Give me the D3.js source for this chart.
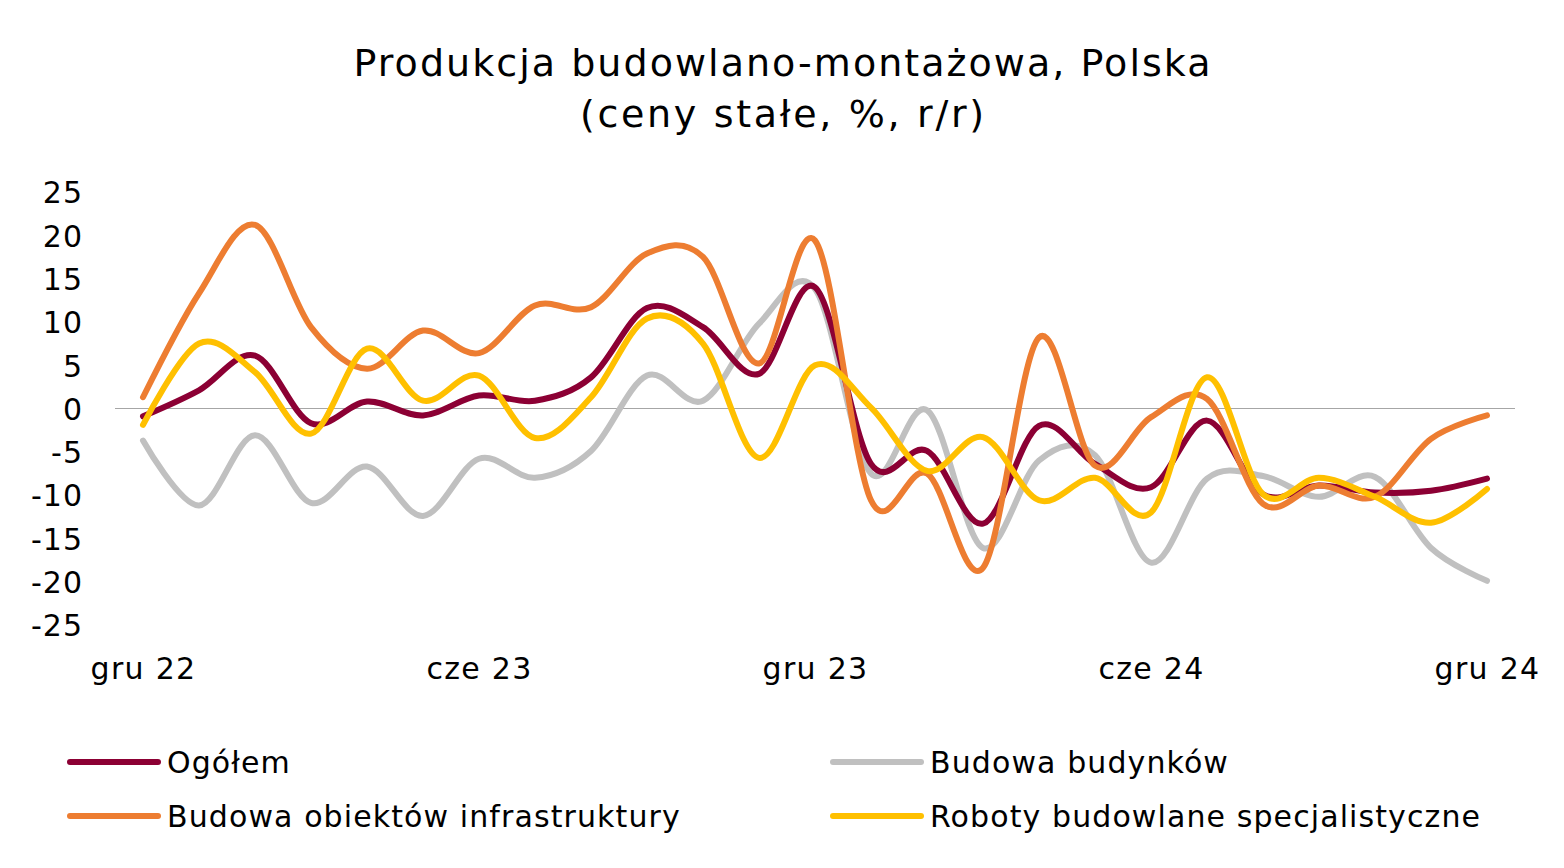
<!DOCTYPE html>
<html><head><meta charset="utf-8">
<script src="https://cdn.jsdelivr.net/npm/d3@7"></script>
<style>body{margin:0;background:#fff;} text{font-family:"DejaVu Sans",Verdana,sans-serif;fill:#000;}</style>
</head><body>
<svg id="c" width="1564" height="868"></svg>
<script>
const months = ["gru 22","sty 23","lut 23","mar 23","kwi 23","maj 23","cze 23","lip 23","sie 23","wrz 23","paź 23","lis 23","gru 23","sty 24","lut 24","mar 24","kwi 24","maj 24","cze 24","lip 24","sie 24","wrz 24","paź 24","lis 24","gru 24"];
const tickMonths = ["gru 22","cze 23","gru 23","cze 24","gru 24"];
const yTicks = [25,20,15,10,5,0,-5,-10,-15,-20,-25];
const ogolem = [-0.9,2.1,6.1,-1.7,0.8,-0.8,1.5,0.9,3.6,11.6,9.4,4.0,14.0,-6.4,-4.9,-13.3,-2.0,-6.4,-9.1,-1.4,-9.9,-8.9,-9.7,-9.5,-8.1];
const budynki = [-3.7,-11.2,-3.1,-10.9,-6.7,-12.4,-5.8,-8.0,-4.9,3.8,0.9,9.8,13.8,-7.5,-0.2,-16.1,-6.0,-5.4,-17.8,-8.1,-7.8,-10.2,-7.9,-16.1,-19.9];
const infrastruktura = [1.3,13.3,21.2,9.4,4.6,9.0,6.4,11.9,11.7,17.9,17.5,5.2,19.4,-10.6,-7.5,-18.4,8.2,-6.6,-1.0,1.1,-11.0,-8.9,-10.2,-3.5,-0.8];
const specjalistyczne = [-1.9,7.5,4.2,-2.9,6.9,0.9,3.8,-3.4,1.3,10.4,7.5,-5.7,5.0,0.1,-7.2,-3.3,-10.6,-8.0,-12.0,3.6,-9.9,-8.0,-10.2,-13.2,-9.3];
const seriesNames = ["Ogółem","Budowa budynków","Budowa obiektów infrastruktury","Roboty budowlane specjalistyczne"];
const colors = ["#8C0034","#C0C0C0","#ED7D31","#FFC000"];

const svg = d3.select("#c");
const x = d3.scalePoint().domain(months).range([115,1515]).padding(0.5);
const y = d3.scaleLinear().domain([-25,25]).range([625,192]);

// title
svg.append("text").attr("x",782).attr("y",76).attr("text-anchor","middle").attr("font-size",38).attr("textLength",857).attr("lengthAdjust","spacing").text("Produkcja budowlano-montażowa, Polska");
svg.append("text").attr("x",782).attr("y",127).attr("text-anchor","middle").attr("font-size",38).attr("textLength",404).attr("lengthAdjust","spacing").text("(ceny stałe, %, r/r)");

// y axis
const yAxis = d3.axisLeft(y).tickValues(yTicks).tickSize(0).tickPadding(0).tickFormat(d=>d);
const ya = svg.append("g").attr("transform","translate(83,0)").call(yAxis);
ya.select(".domain").remove();
ya.selectAll("text").attr("font-size",30).attr("dy","0.36em").style("letter-spacing","1px").style("font-family","'DejaVu Sans',Verdana,sans-serif").attr("fill","#000");

// x axis labels
const xAxis = d3.axisBottom(x).tickValues(tickMonths).tickSize(0).tickPadding(0);
const xa = svg.append("g").attr("transform","translate(0,679)").call(xAxis);
xa.select(".domain").remove();
xa.selectAll("text").attr("font-size",30).attr("dy","0").style("letter-spacing","1.3px").style("font-family","'DejaVu Sans',Verdana,sans-serif").attr("fill","#000");

// zero line
svg.append("line").attr("x1",115).attr("x2",1515).attr("y1",y(0)).attr("y2",y(0)).attr("stroke","#A6A6A6").attr("stroke-width",1.2);

const data = [ogolem,budynki,infrastruktura,specjalistyczne];
const line = d3.line().x((d,i)=>x(months[i])).y(d=>y(d)).curve(d3.curveCardinal.tension(0));
const order = [1,0,2,3];
order.forEach(k=>{
  svg.append("path").attr("d",line(data[k])).attr("fill","none").attr("stroke",colors[k]).attr("stroke-width",6).attr("stroke-linecap","round").attr("stroke-linejoin","round");
});

// legend
const legPos = [[70,762],[833,762],[70,816],[833,816]];
seriesNames.forEach((n,k)=>{
  const [lx,ly] = legPos[k];
  svg.append("line").attr("x1",lx).attr("x2",lx+88).attr("y1",ly).attr("y2",ly).attr("stroke",colors[k]).attr("stroke-width",6).attr("stroke-linecap","round");
  svg.append("text").attr("x",lx+97).attr("y",ly+11).attr("font-size",30).style("letter-spacing","1.1px").text(n);
});
</script>
</body></html>
